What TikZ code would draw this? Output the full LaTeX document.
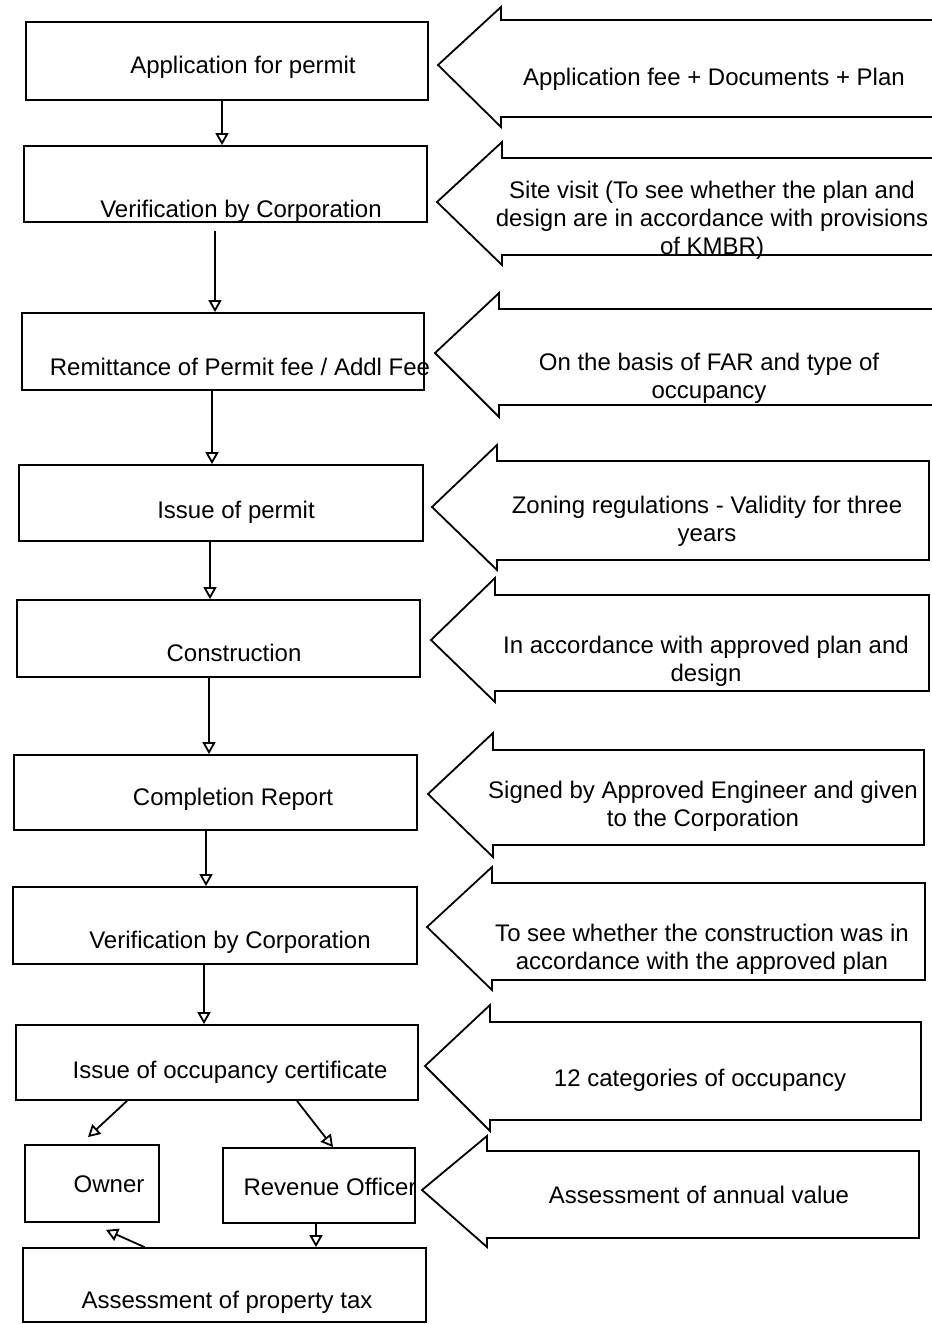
\documentclass[tikz,border=0pt]{standalone}
\usepackage{fontspec}
\setmainfont{Liberation Sans}
\usetikzlibrary{arrows.meta}

\tikzset{
  box/.style={draw, line width=1.8pt, inner sep=0pt},
  txt/.style={anchor=north, inner sep=0pt, align=center, font=\fontsize{24}{28}\selectfont},
  flow/.style={line width=1.8pt, -{Triangle[open, length=12pt, width=13pt]}},
  fat/.style={draw, line width=1.8pt, line join=miter},
}

\begin{document}
\begin{tikzpicture}[x=1pt, y=-1pt]
  \useasboundingbox (0,0) rectangle (931,1324);

  % steps on the left
  \node[box, minimum width=402pt, minimum height=78pt] (app) at (227,61) {};
  \node[box, minimum width=403pt, minimum height=76pt] (ver1) at (225.5,184) {};
  \node[box, minimum width=402pt, minimum height=77pt] (rem) at (223,351.5) {};
  \node[box, minimum width=404pt, minimum height=76pt] (iss) at (221,503) {};
  \node[box, minimum width=403pt, minimum height=77pt] (con) at (218.5,638.5) {};
  \node[box, minimum width=403pt, minimum height=75pt] (comp) at (215.5,792.5) {};
  \node[box, minimum width=404pt, minimum height=77pt] (ver2) at (215,925.5) {};
  \node[box, minimum width=402pt, minimum height=75pt] (occ) at (217,1062.5) {};
  \node[box, minimum width=134pt, minimum height=77pt] (owner) at (92,1183.5) {};
  \node[box, minimum width=192pt, minimum height=75pt] (rev) at (319,1185.5) {};
  \node[box, minimum width=403pt, minimum height=74pt] (tax) at (224.5,1285) {};

  \node[txt] (appT) at (243,56) {Application for permit};
  \node[txt] (ver1T) at (241,200) {Verification by Corporation};
  \node[txt] (remT) at (240,358) {Remittance of Permit fee / Addl Fee};
  \node[txt] (issT) at (236,501) {Issue of permit};
  \node[txt] (conT) at (234,644) {Construction};
  \node[txt] (compT) at (233,788) {Completion Report};
  \node[txt] (ver2T) at (230,931) {Verification by Corporation};
  \node[txt] (occT) at (230,1061) {Issue of occupancy certificate};
  \node[txt] (ownerT) at (109,1176) {Owner};
  \node[txt] (revT) at (330,1178) {Revenue Officer};
  \node[txt] (taxT) at (227,1291) {Assessment of property tax};

  \draw[flow] ([xshift=-5pt]app.south) -- ([xshift=-5pt]app.south |- ver1.north);
  \draw[flow, shorten <=8pt] ([xshift=-10.5pt]ver1.south) -- ([xshift=-10.5pt]ver1.south |- rem.north);
  \draw[flow] ([xshift=-11pt]rem.south) -- ([xshift=-11pt]rem.south |- iss.north);
  \draw[flow] ([xshift=-11pt]iss.south) -- ([xshift=-11pt]iss.south |- con.north);
  \draw[flow] ([xshift=-9.5pt]con.south) -- ([xshift=-9.5pt]con.south |- comp.north);
  \draw[flow] ([xshift=-9.5pt]comp.south) -- ([xshift=-9.5pt]comp.south |- ver2.north);
  \draw[flow] ([xshift=-11pt]ver2.south) -- ([xshift=-11pt]ver2.south |- occ.north);
  \draw[flow] ([xshift=-90pt]occ.south) -- ([xshift=-4pt,yshift=7pt]owner.north);
  \draw[flow] ([xshift=80pt]occ.south) -- ([xshift=14pt]rev.north);
  \draw[flow] ([xshift=-3pt]rev.south) -- ([xshift=-3pt]rev.south |- tax.north);
  \draw[flow] ([xshift=-80pt]tax.north) -- ([xshift=14pt,yshift=-7pt]owner.south);

  % block arrows on the right
  \draw[fat] (438,65) -- (501,7) -- (501,20) -- (960,20) -- (960,117) -- (501,117) -- (501,127) -- cycle;
  \draw[fat] (437,202) -- (502,142) -- (502,158) -- (960,158) -- (960,255) -- (502,255) -- (502,265) -- cycle;
  \draw[fat] (435,353) -- (499,293) -- (499,309) -- (960,309) -- (960,405) -- (499,405) -- (499,417) -- cycle;
  \draw[fat] (432,507) -- (497,445) -- (497,461) -- (929,461) -- (929,560) -- (497,560) -- (497,570) -- cycle;
  \draw[fat] (431,640) -- (495,578) -- (495,595) -- (929,595) -- (929,691) -- (495,691) -- (495,702) -- cycle;
  \draw[fat] (428,794) -- (493,733) -- (493,750) -- (924,750) -- (924,845) -- (493,845) -- (493,857) -- cycle;
  \draw[fat] (427,927) -- (492,867) -- (492,883) -- (925,883) -- (925,980) -- (492,980) -- (492,990) -- cycle;
  \draw[fat] (425,1066) -- (490,1005) -- (490,1022) -- (921,1022) -- (921,1120) -- (490,1120) -- (490,1131) -- cycle;
  \draw[fat] (422,1190) -- (487,1136) -- (487,1151) -- (919,1151) -- (919,1238) -- (487,1238) -- (487,1247) -- cycle;

  \node[txt] (feeT) at (714,68) {Application fee + Documents + Plan};
  \node[txt] (siteT) at (712,181) {Site visit (To see whether the plan and\\design are in accordance with provisions\\of KMBR)};
  \node[txt] (farT) at (709,353) {On the basis of FAR and type of\\occupancy};
  \node[txt] (zoneT) at (707,496) {Zoning regulations - Validity for three\\years};
  \node[txt] (planT) at (706,636) {In accordance with approved plan and\\design};
  \node[txt] (signT) at (703,781) {Signed by Approved Engineer and given\\to the Corporation};
  \node[txt] (seeT) at (702,924) {To see whether the construction was in\\accordance with the approved plan};
  \node[txt] (catT) at (700,1069) {12 categories of occupancy};
  \node[txt] (annT) at (699,1186) {Assessment of annual value};
\end{tikzpicture}
\end{document}
